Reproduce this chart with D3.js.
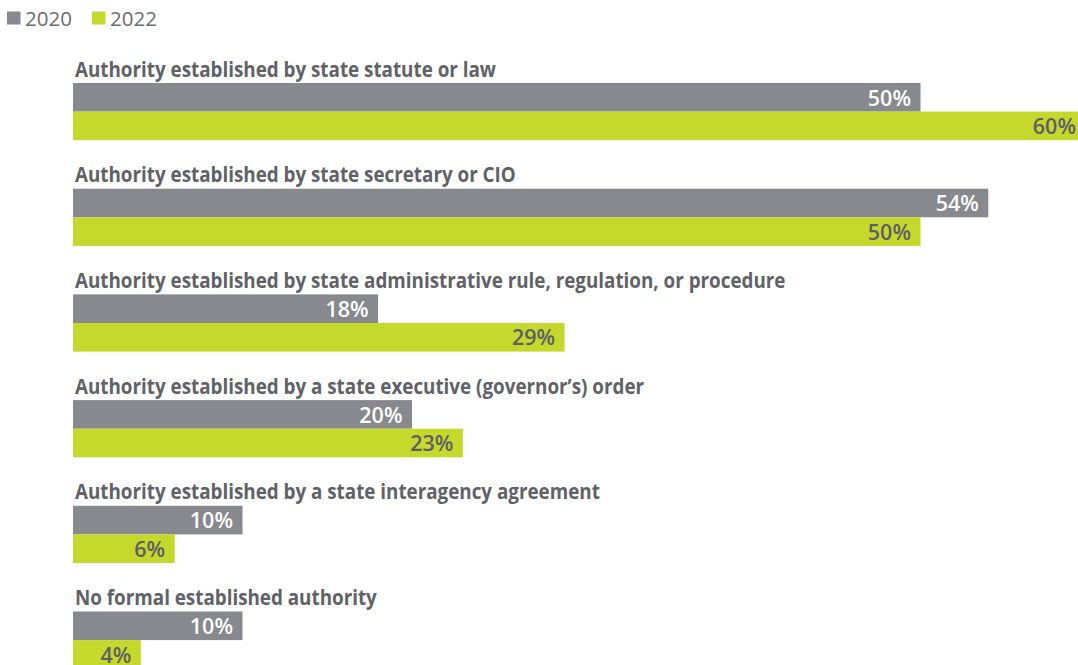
<!DOCTYPE html>
<html>
<head>
<meta charset="utf-8">
<script src="https://cdn.jsdelivr.net/npm/d3@7"></script>
<style>
  html, body { margin: 0; padding: 0; background: #fff; }
  svg { display: block; }
</style>
</head>
<body>
<div id="chart"></div>
<script>
// Sources of authority, share of states by survey year
const categories = [
  "Authority established by state statute or law",
  "Authority established by state secretary or CIO",
  "Authority established by state administrative rule, regulation, or procedure",
  "Authority established by a state executive (governor\u2019s) order",
  "Authority established by a state interagency agreement",
  "No formal established authority"
];
const seriesNames = ["2020", "2022"];
const values2020 = [50, 54, 18, 20, 10, 10];
const values2022 = [60, 50, 29, 23, 6, 4];
const seriesColors = ["#87898e", "#c5d82c"];
const labelColors = ["#ffffff", "#5d5f66"];

const W = 1078, H = 665;
const svg = d3.select("#chart").append("svg")
  .attr("width", W).attr("height", H)
  .style("font-family", "'Open Sans', 'Noto Sans', sans-serif");

const x = d3.scaleLinear().domain([0, 60]).range([73, 1090]);
// band start = top of each group's first bar
const yGroup = d3.scaleBand().domain(categories).range([83, 83 + 105.7 * 6]);
const barH = 28.6;

// legend
const legend = svg.append("g").attr("class", "legend");
const legendX = [7, 92];
seriesNames.forEach((name, i) => {
  const g = legend.append("g").attr("transform", `translate(${legendX[i]},0)`);
  g.append("rect").attr("x", 0).attr("y", 11.5).attr("width", 13.5).attr("height", 13)
    .attr("fill", seriesColors[i]);
  g.append("text").attr("x", 18).attr("y", 25.5).text(name)
    .attr("font-size", 20.5).attr("fill", "#6b6d72");
});

const rows = categories.map((c, i) => ({ cat: c, vals: [values2020[i], values2022[i]] }));

const group = svg.selectAll("g.row").data(rows).join("g")
  .attr("class", "row")
  .attr("transform", d => `translate(0,${yGroup(d.cat)})`);

// category titles, condensed bold
group.append("text")
  .attr("class", "cat")
  .attr("x", 75).attr("y", -6.5)
  .attr("font-size", 22)
  .attr("font-weight", 700)
  .attr("fill", "#606268")
  .text(d => d.cat);

group.each(function(d) {
  const g = d3.select(this);
  d.vals.forEach((v, j) => {
    const y0 = j * barH;
    g.append("rect")
      .attr("x", x(0)).attr("y", y0)
      .attr("width", x(v) - x(0)).attr("height", barH)
      .attr("fill", seriesColors[j]);
    g.append("text")
      .attr("x", Math.min(x(v) - 9.5, W - 2))
      .attr("y", y0 + 22.5)
      .attr("text-anchor", "end")
      .attr("font-size", 21.5)
      .attr("font-weight", 600)
      .attr("fill", labelColors[j])
      .text(v + "%");
  });
});

// squeeze titles horizontally to a condensed face
svg.selectAll("text.cat").each(function() {
  const t = d3.select(this);
  const len = this.getComputedTextLength();
  t.attr("textLength", len * 0.855).attr("lengthAdjust", "spacingAndGlyphs");
});
</script>
</body>
</html>
